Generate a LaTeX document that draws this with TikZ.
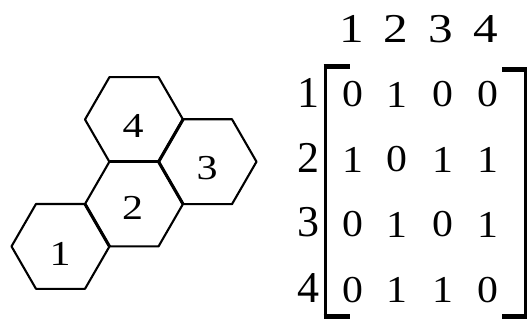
\documentclass[tikz,border=0pt]{standalone}
\usepackage{fontspec}
\setmainfont{Liberation Serif}
\newfontfamily\widserif[FakeStretch=1.2]{Liberation Serif}
\newfontfamily\entryserif[FakeStretch=1.1]{Liberation Serif}
\usetikzlibrary{shapes.geometric}
\begin{document}
\begin{tikzpicture}[x=1pt,y=-1pt,
  hexcell/.style={regular polygon, regular polygon sides=6, minimum size=98pt,
    inner sep=0pt, outer sep=0pt, draw, line width=2.1pt, line join=round},
  sharededge/.style={line width=3.1pt},
  hexlabel/.style={font=\widserif\fontsize{35}{35}\selectfont, inner sep=0pt},
  entry/.style={font=\entryserif\fontsize{38}{38}\selectfont, inner sep=0pt},
  rowlabel/.style={font=\fontsize{44}{44}\selectfont, inner sep=0pt},
  header/.style={font=\widserif\fontsize{41}{41}\selectfont, inner sep=0pt},
  bracketline/.style={line width=3pt},
  brackettick/.style={line width=5pt}]
\useasboundingbox (0,0) rectangle (528,320);
% hexagons
\node[hexcell] (h2) at (134,204) {};
\node[hexcell] (h4) at (134,119.5) {};
\node[hexcell] (h3) at (207.5,161.7) {};
\node[hexcell] (h1) at (60.5,246.4) {};
\draw[sharededge] (h2.120) -- (h2.60);
\draw[sharededge] (h2.60) -- (h2.0);
\draw[sharededge] (h2.180) -- (h2.240);
\draw[sharededge] (h4.0) -- (h4.300);
\node[hexlabel] (l4) at (133,126) {4};
\node[hexlabel] (l2) at (132.5,208) {2};
\node[hexlabel] (l3) at (207,168) {3};
\node[hexlabel] (l1) at (60,254) {1};
% column headers
\node[header] (c1) at (352,29) {1};
\node[header] (c2) at (396,29) {2};
\node[header] (c3) at (441,29) {3};
\node[header] (c4) at (486,29) {4};
% row labels
\node[rowlabel] (r1) at (308,92.5) {1};
\node[rowlabel] (r2) at (308,157.5) {2};
\node[rowlabel] (r3) at (308,222.5) {3};
\node[rowlabel] (r4) at (308,288) {4};
% entries
\node[entry] (m11) at (353,94.5) {0};
\node[entry] (m12) at (397,94.5) {1};
\node[entry] (m13) at (442.5,94.5) {0};
\node[entry] (m14) at (487.5,94.5) {0};
\node[entry] (m21) at (353,159.5) {1};
\node[entry] (m22) at (397,159.5) {0};
\node[entry] (m23) at (442.5,159.5) {1};
\node[entry] (m24) at (487.5,159.5) {1};
\node[entry] (m31) at (353,224.5) {0};
\node[entry] (m32) at (397,224.5) {1};
\node[entry] (m33) at (442.5,224.5) {0};
\node[entry] (m34) at (487.5,224.5) {1};
\node[entry] (m41) at (353,290) {0};
\node[entry] (m42) at (397,290) {1};
\node[entry] (m43) at (442.5,290) {1};
\node[entry] (m44) at (487.5,290) {0};
% brackets
\draw[bracketline] (325,67) -- (325,317);
\draw[brackettick] (323.5,67) -- (350,67);
\draw[brackettick] (323.5,317) -- (350,317);
\draw[bracketline] (525,70) -- (525,317);
\draw[brackettick] (502,70) -- (526.5,70);
\draw[brackettick] (502,317) -- (526.5,317);
\end{tikzpicture}
\end{document}
